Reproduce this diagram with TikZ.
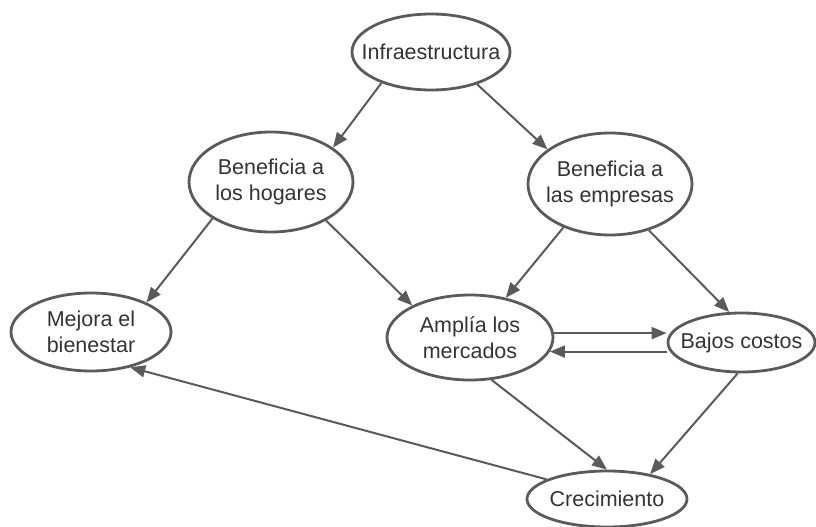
\documentclass[tikz,border=0pt]{standalone}
\usepackage{fontspec}
\setmainfont{Liberation Sans}
\usepackage{tikz}
\usetikzlibrary{shapes.geometric,arrows.meta}

\definecolor{borde}{HTML}{5A5A5A}
\definecolor{texto}{HTML}{333333}

\begin{document}
\begin{tikzpicture}[x=1pt,y=1pt]
\tikzset{idea/.style={ellipse,draw=borde,line width=2.8pt,text=texto,align=center,
  inner xsep=-14pt,inner ysep=0pt,font=\fontsize{21.5}{26.5}\selectfont},
  flecha/.style={draw=borde,line width=2pt,-{Triangle[length=15pt,width=12pt]}}}
\useasboundingbox (0,0) rectangle (816,-527);
% nodos
\node [idea,minimum width=158,minimum height=76] (infra) at (431,-52) {Infraestructura};
\node [idea,minimum width=164,minimum height=100] (hog) at (271,-182) {Beneficia a\\los hogares};
\node [idea,minimum width=164,minimum height=102] (emp) at (610,-184) {Beneficia a\\las empresas};
\node [idea,minimum width=160,minimum height=78] (mej) at (91,-332) {Mejora el\\bienestar};
\node [idea,minimum width=166,minimum height=85] (ampl) at (470,-337.5) {Amplía los\\mercados};
\node [idea,minimum width=147,minimum height=59] (bajos) at (741.5,-342.5) {Bajos costos};
\node [idea,minimum width=160,minimum height=56] (crec) at (607,-499) {Crecimiento};
% flechas
\draw [flecha] (infra.212) -- (hog.29);
\draw [flecha] (infra.325) -- (emp.151);
\draw [flecha] (hog.212) -- (mej.28);
\draw [flecha] (hog.325) -- (ampl.151);
\draw [flecha] (emp.223) -- (ampl.48);
\draw [flecha] (emp.310) -- (bajos.112);
\draw [flecha] (ampl.3) -- (ampl.3 -| bajos.west);
\draw [flecha] (bajos.west |- ampl.-10) -- (ampl.-10);
\draw [flecha] (ampl.297) -- (crec.90);
\draw [flecha] (bajos.263) -- (crec.30);
\draw [flecha] (crec.162) -- (mej.318);
\end{tikzpicture}
\end{document}
